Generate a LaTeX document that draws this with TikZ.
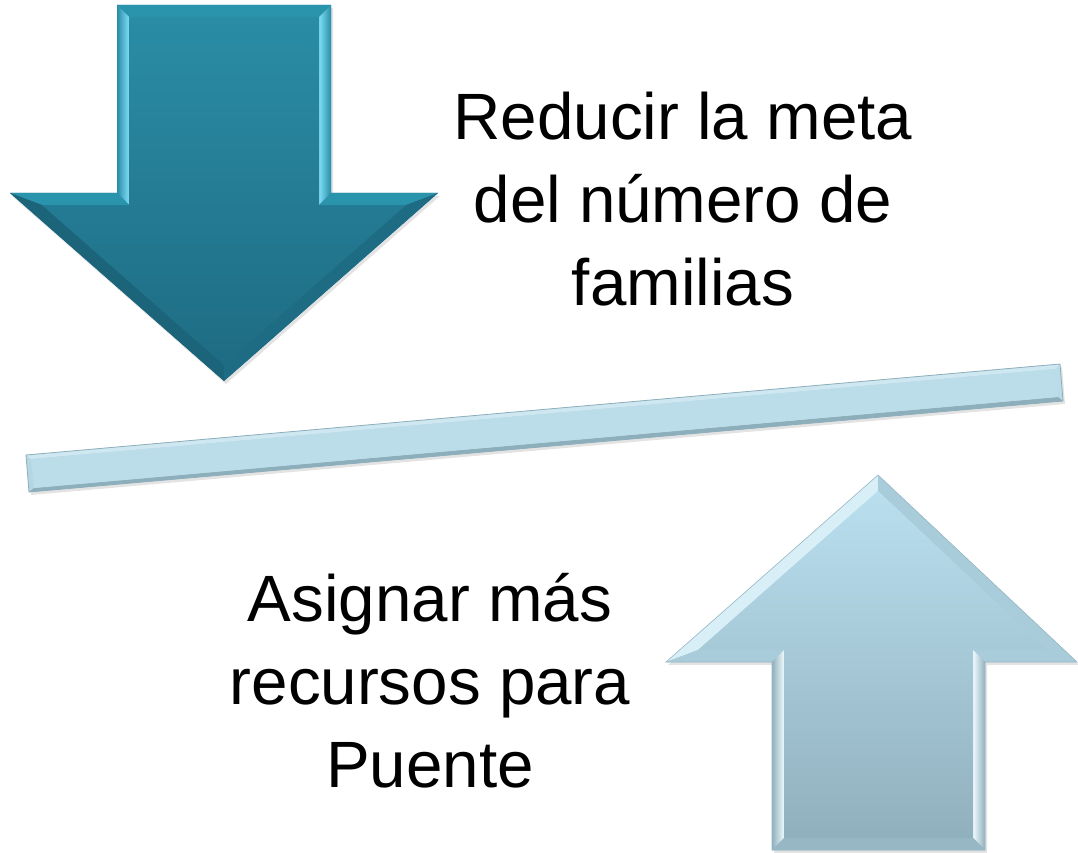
\documentclass[tikz,border=0pt]{standalone}
\usepackage{fontspec}
\setmainfont{Liberation Sans}
\usetikzlibrary{shadows}

\definecolor{tealtop}{HTML}{2A8DA5}
\definecolor{tealbottom}{HTML}{1E6C84}
\definecolor{tealrim}{HTML}{2B94AD}
\definecolor{tealglow}{HTML}{7EDDF6}
\definecolor{tealshade}{HTML}{1B6479}
\definecolor{skytop}{HTML}{B9DFEE}
\definecolor{skybottom}{HTML}{91B0BE}
\definecolor{skyglow}{HTML}{EEFAFD}
\definecolor{skyshade}{HTML}{98B7C4}
\definecolor{skyrim}{HTML}{A9CCDA}
\definecolor{barfill}{HTML}{BADDE9}
\definecolor{barrim}{HTML}{8DAEBB}

\tikzset{
	caption/.style={align=center, inner sep=0pt, font=\fontsize{65.5}{83}\selectfont},
	outline shadow/.style={drop shadow={opacity=.22, shadow xshift=2pt, shadow yshift=-3pt}},
}

\begin{document}
\begin{tikzpicture}[x=1pt, y=-1pt]
	\useasboundingbox (0,0) rectangle (1078,853);

	\shade[outline shadow, top color=tealtop, bottom color=tealbottom]
		(117,5) -- (331,5) -- (331,193) -- (438,193) -- (224,381) -- (10,193) -- (117,193) -- cycle;
	\fill[tealrim] (117,5) -- (331,5) -- (319,17) -- (129,17) -- cycle;
	\shade[left color=tealtop, right color=tealglow] (117,5) -- (129,17) -- (129,205) -- (117,193) -- cycle;
	\shade[left color=tealglow, right color=tealtop] (331,193) -- (319,205) -- (319,17) -- (331,5) -- cycle;
	\fill[tealrim] (117,193) -- (129,205) -- (42,205) -- (10,193) -- cycle;
	\fill[tealrim] (438,193) -- (406,205) -- (319,205) -- (331,193) -- cycle;
	\fill[tealshade] (10,193) -- (42,205) -- (224,365) -- (224,381) -- cycle;
	\fill[tealbottom] (224,381) -- (224,365) -- (406,205) -- (438,193) -- cycle;
	\shade[top color=tealtop, bottom color=tealbottom]
		(129,17) -- (319,17) -- (319,205) -- (406,205) -- (224,365) -- (42,205) -- (129,205) -- cycle;

	\shade[outline shadow, top color=barfill, bottom color=barfill!85!barrim]
		(26,455) -- (1060,364) -- (1063,401) -- (29,492) -- cycle;
	\fill[barfill!70!white] (26,455) -- (1060,364) -- (1055,369) -- (31,459) -- cycle;
	\fill[barrim] (29,492) -- (1063,401) -- (1058,397) -- (34,488) -- cycle;
	\fill[barfill] (31,459) -- (1055,369) -- (1058,397) -- (34,488) -- cycle;
	\draw[barrim, line width=.8pt] (26,455) -- (1060,364) -- (1063,401) -- (29,492) -- cycle;

	\shade[outline shadow, top color=skytop, bottom color=skybottom]
		(878,475) -- (1077,662) -- (985,662) -- (985,850) -- (772,850) -- (772,662) -- (666,662) -- cycle;
	\fill[skyglow!60!skytop] (666,662) -- (698,650) -- (878,491) -- (878,475) -- cycle;
	\fill[skyrim] (878,475) -- (878,491) -- (1047,650) -- (1077,662) -- cycle;
	\fill[skyrim] (666,662) -- (772,662) -- (784,650) -- (698,650) -- cycle;
	\fill[skyrim] (1077,662) -- (985,662) -- (973,650) -- (1047,650) -- cycle;
	\shade[left color=skybottom, right color=skyglow] (772,662) -- (784,650) -- (784,838) -- (772,850) -- cycle;
	\shade[left color=skyglow, right color=skybottom] (985,662) -- (973,650) -- (973,838) -- (985,850) -- cycle;
	\fill[skyshade] (772,850) -- (784,838) -- (973,838) -- (985,850) -- cycle;
	\shade[top color=skytop, bottom color=skybottom]
		(878,491) -- (1047,650) -- (973,650) -- (973,838) -- (784,838) -- (784,650) -- (698,650) -- cycle;
	\draw[skyshade, line width=.6pt]
		(878,475) -- (1077,662) -- (985,662) -- (985,850) -- (772,850) -- (772,662) -- (666,662) -- cycle;

	\node[caption, anchor=base] (reducir) at (683,305) {Reducir la meta\\del número de\\familias};
	\node[caption, anchor=base] (asignar) at (430,787) {Asignar más\\recursos para\\Puente};
\end{tikzpicture}
\end{document}
